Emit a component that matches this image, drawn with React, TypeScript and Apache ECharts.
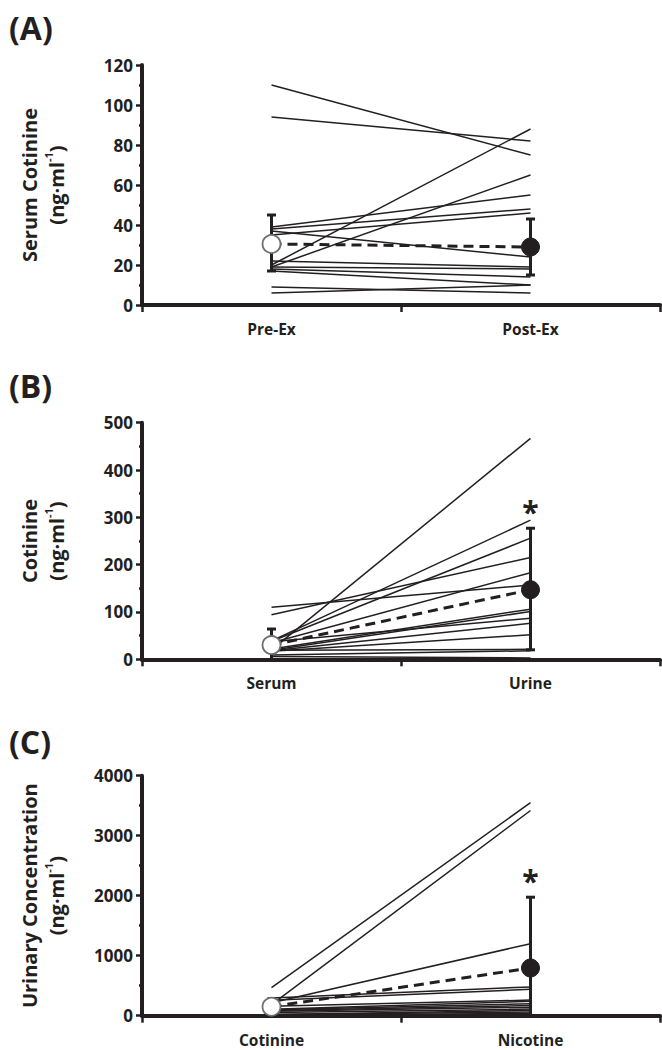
import React, { useEffect, useRef } from "react";
import * as echarts from "echarts";

// ---------- DATA ----------
const catsA = ["Pre-Ex", "Post-Ex"];
const preEx = [110, 94, 20, 19, 39, 38, 35, 37, 22, 19, 18, 17, 9, 6];
const postEx = [75, 82, 88, 65, 55, 48, 46, 24, 19, 18, 14, 10, 6, 10];
const meanA = [30.5, 29];
const errLowA = [17, 15];
const errHighA = [45, 43];

const catsB = ["Serum", "Urine"];
const serumB = [110, 94, 20, 39, 38, 22, 35, 19, 37, 18, 17, 19, 9, 6];
const urineB = [157, 215, 467, 294, 256, 106, 183, 101, 87, 76, 52, 21, 18, 3];
const meanB = [30, 147];
const errLowB = [0, 20];
const errHighB = [64, 277];
const starB = [0, 1];

const catsC = ["Cotinine", "Nicotine"];
const cotC = [467, 183, 215, 294, 256, 157, 106, 101, 87, 76, 52, 21, 18, 3];
const nicC = [3550, 3420, 1200, 480, 440, 260, 240, 200, 170, 140, 110, 90, 60, 40];
const meanC = [150, 795];
const errLowC = [0, 0];
const errHighC = [280, 1975];
const starC = [0, 1];

const yMaxA = 120, yStepA = 20;
const yMaxB = 500, yStepB = 100;
const yMaxC = 4000, yStepC = 1000;

// ---------- STYLE ----------
const INK = "#231f20";
const FONT = "'Open Sans', Lato, sans-serif";

export default function App() {
  const ref = useRef<HTMLDivElement>(null);

  useEffect(() => {
    if (!ref.current) return;
    const chart = echarts.init(ref.current, null, { renderer: "svg" });

    const grids = [
      { left: 142, right: 2, top: 65, height: 240 },
      { left: 142, right: 2, top: 422.7, height: 236.6 },
      { left: 142, right: 2, top: 775.7, height: 240 },
    ];

    const mkX = (cats: string[], idx: number) => ({
      type: "category",
      gridIndex: idx,
      data: cats,
      boundaryGap: true,
      axisLine: { lineStyle: { color: INK, width: 4 } },
      axisTick: { show: true, alignWithLabel: false, length: 7, lineStyle: { color: INK, width: 2.5 } },
      axisLabel: { color: INK, fontFamily: FONT, fontWeight: "bold", fontSize: 15.5, lineHeight: 16, margin: 16 },
      splitLine: { show: false },
    });

    const mkY = (max: number, step: number, idx: number, title: string) => ({
      type: "value",
      gridIndex: idx,
      min: 0,
      max,
      interval: step,
      axisLine: { show: true, lineStyle: { color: INK, width: 4 } },
      axisTick: { show: true, length: 6, lineStyle: { color: INK, width: 2.5 } },
      minorTick: { show: true, splitNumber: 2, length: 3, lineStyle: { color: INK, width: 2.5 } },
      splitLine: { show: false },
      minorSplitLine: { show: false },
      axisLabel: {
        color: INK,
        fontFamily: FONT,
        fontWeight: "bold",
        fontSize: 17,
        margin: 9,
        formatter: (v: number) => String(v),
      },
      name: `{a|${title}}\n{a|(ng·ml}{s|-1}{a|)}`,
      nameLocation: "middle",
      nameRotate: 90,
      nameGap: 72,
      nameTextStyle: {
        rich: {
          a: { fontFamily: FONT, fontWeight: "bold", fontSize: 20, color: INK, lineHeight: 27 },
          s: { fontFamily: FONT, fontWeight: "bold", fontSize: 11, color: INK, lineHeight: 27, verticalAlign: "top" },
        },
      },
    });

    const series: any[] = [];

    const addPanel = (
      idx: number,
      a: number[],
      b: number[],
      mean: number[],
      lo: number[],
      hi: number[],
      star: number[] | null
    ) => {
      a.forEach((v, i) => {
        series.push({
          type: "line",
          xAxisIndex: idx,
          yAxisIndex: idx,
          data: [v, b[i]],
          symbol: "none",
          lineStyle: { color: INK, width: 1.5 },
          z: 2,
          silent: true,
        });
      });
      series.push({
        type: "custom",
        xAxisIndex: idx,
        yAxisIndex: idx,
        z: 3,
        silent: true,
        data: mean.map((_, i) => [i, lo[i], hi[i], star ? star[i] : 0]),
        encode: { x: 0, y: [1, 2] },
        renderItem: (params: any, api: any) => {
          const xi = api.value(0);
          const l = api.value(1);
          const h = api.value(2);
          const s = api.value(3);
          const pL = api.coord([xi, l]);
          const pH = api.coord([xi, h]);
          const st = { stroke: INK, lineWidth: 3 };
          const children: any[] = [
            { type: "line", shape: { x1: pL[0], y1: pL[1], x2: pH[0], y2: pH[1] }, style: st },
            { type: "line", shape: { x1: pH[0] - 4.5, y1: pH[1], x2: pH[0] + 4.5, y2: pH[1] }, style: st },
          ];
          if (l > 0) {
            children.push({ type: "line", shape: { x1: pL[0] - 4.5, y1: pL[1], x2: pL[0] + 4.5, y2: pL[1] }, style: st });
          }
          if (s) {
            children.push({
              type: "text",
              style: {
                text: "*",
                x: pH[0],
                y: pH[1] - 17,
                fill: INK,
                font: `bold 30px ${FONT}`,
                textAlign: "center",
                textVerticalAlign: "middle",
              },
            });
          }
          return { type: "group", children };
        },
      });
      series.push({
        type: "line",
        xAxisIndex: idx,
        yAxisIndex: idx,
        z: 4,
        silent: true,
        data: [
          { value: mean[0], itemStyle: { color: "#ffffff", borderColor: "#6d6e71", borderWidth: 1.8 } },
          { value: mean[1], itemStyle: { color: INK, borderColor: INK, borderWidth: 1 } },
        ],
        symbol: "circle",
        symbolSize: 18,
        lineStyle: { color: INK, width: 3, type: [10, 6] },
      });
    };

    addPanel(0, preEx, postEx, meanA, errLowA, errHighA, null);
    addPanel(1, serumB, urineB, meanB, errLowB, errHighB, starB);
    addPanel(2, cotC, nicC, meanC, errLowC, errHighC, starC);

    const letter = (t: string, y: number) => ({
      type: "text",
      left: 9,
      top: y,
      style: { text: t, fill: INK, font: `bold 32px ${FONT}` },
    });

    chart.setOption({
      animation: false,
      backgroundColor: "#ffffff",
      grid: grids,
      xAxis: [mkX(catsA, 0), mkX(catsB, 1), mkX(catsC, 2)],
      yAxis: [
        mkY(yMaxA, yStepA, 0, "Serum Cotinine"),
        mkY(yMaxB, yStepB, 1, "Cotinine"),
        mkY(yMaxC, yStepC, 2, "Urinary Concentration"),
      ],
      series,
      graphic: [letter("(A)", 11), letter("(B)", 369), letter("(C)", 725)],
    });

    return () => chart.dispose();
  }, []);

  return (
    <div
      ref={ref}
      style={{ position: "absolute", left: 0, top: 0, width: 662, height: 1050, background: "#fff" }}
    />
  );
}
